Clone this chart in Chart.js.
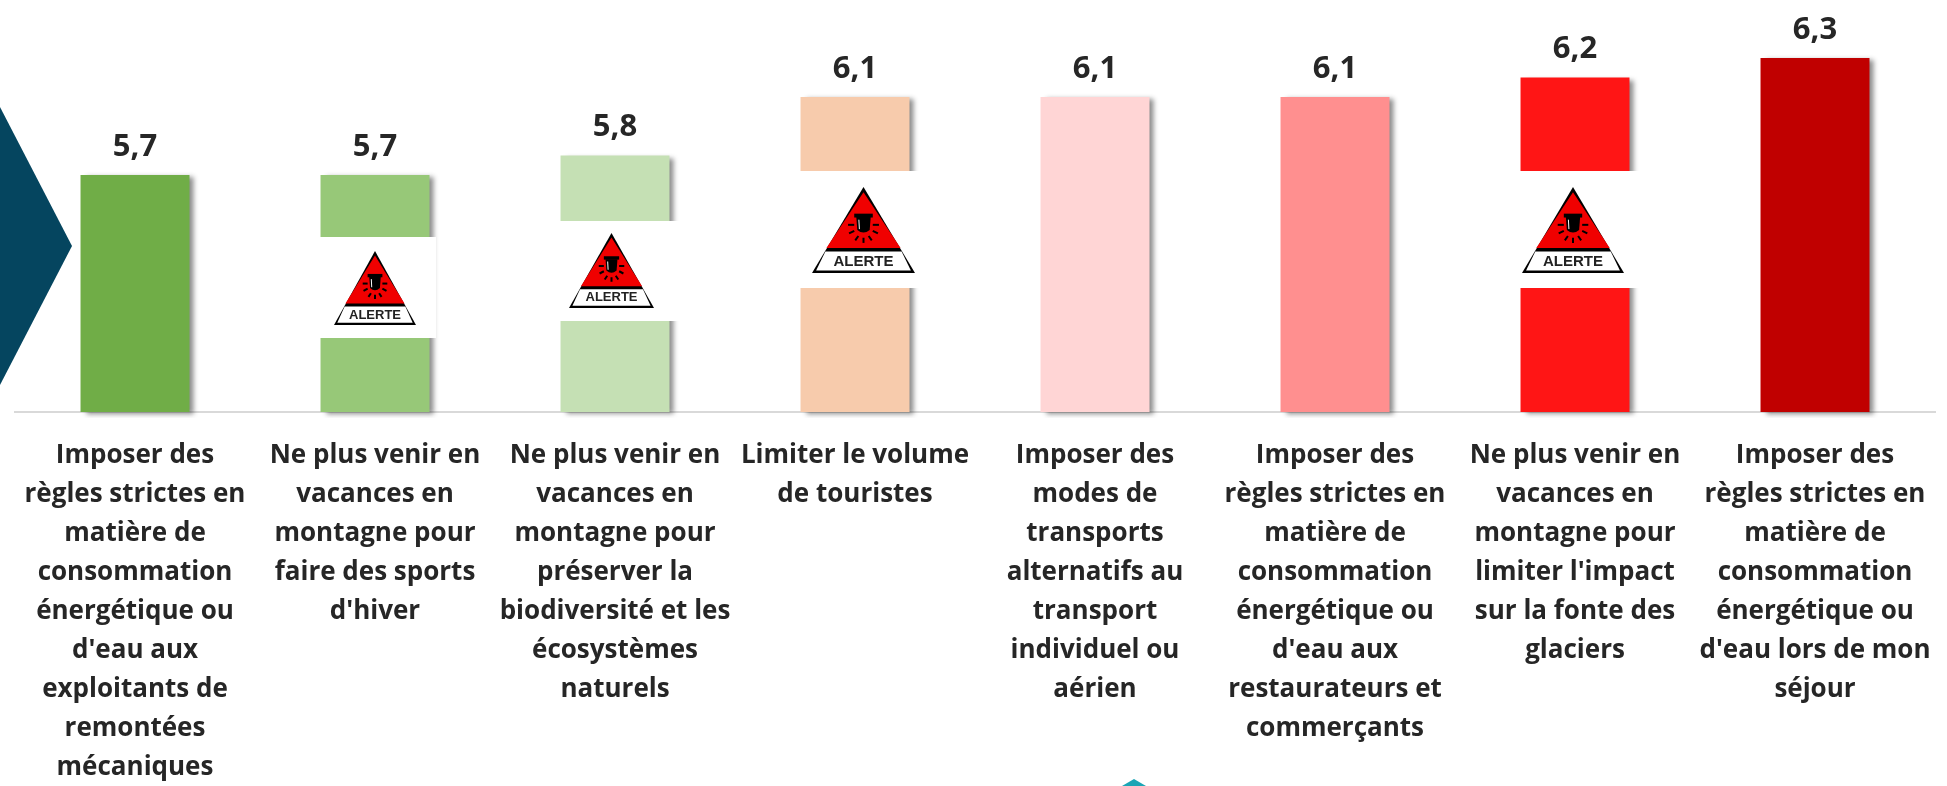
<!DOCTYPE html>
<html>
<head>
<meta charset="utf-8">
<script src="https://cdn.jsdelivr.net/npm/chart.js@4"></script>
<style>
  html, body { margin: 0; padding: 0; background: #fff; }
  #wrap { width: 1947px; height: 786px; }
</style>
</head>
<body>
<div id="wrap"><canvas id="mesures"></canvas></div>
<script>
const categories = [
    ["Imposer des", "règles strictes en", "matière de", "consommation", "énergétique ou", "d'eau aux", "exploitants de", "remontées", "mécaniques"],
    ["Ne plus venir en", "vacances en", "montagne pour", "faire des sports", "d'hiver"],
    ["Ne plus venir en", "vacances en", "montagne pour", "préserver la", "biodiversité et les", "écosystèmes", "naturels"],
    ["Limiter le volume", "de touristes"],
    ["Imposer des", "modes de", "transports", "alternatifs au", "transport", "individuel ou", "aérien"],
    ["Imposer des", "règles strictes en", "matière de", "consommation", "énergétique ou", "d'eau aux", "restaurateurs et", "commerçants"],
    ["Ne plus venir en", "vacances en", "montagne pour", "limiter l'impact", "sur la fonte des", "glaciers"],
    ["Imposer des", "règles strictes en", "matière de", "consommation", "énergétique ou", "d'eau lors de mon", "séjour"]
];
const scores = [5.7, 5.7, 5.8, 6.1, 6.1, 6.1, 6.2, 6.3];
const barColors = ["#70AD47", "#97C878", "#C5E0B4", "#F7CBAC", "#FFD5D5", "#FF8F8F", "#FF1515", "#C00000"];
const alertBars = [1, 2, 3, 6];
const axisMin = 4.485;
const axisMax = 6.598;

// pictogramme : bande blanche dans la barre + triangle (pixels)
const alertBoxes = {
    1: {top: 237, bottom: 338, right: 436, x: 334, y: 251, w: 82, h: 74},
    2: {top: 221, bottom: 321, right: 680, x: 569, y: 233, w: 85, h: 75},
    3: {top: 171, bottom: 288, right: 920, x: 812, y: 187, w: 103, h: 86},
    6: {top: 171, bottom: 288, right: 1640, x: 1522, y: 187, w: 102, h: 86}
};

function drawAlert(ctx, x, y, w, h) {
    const px = (u) => x + u * w;
    const py = (v) => y + v * h;
    ctx.save();
    ctx.beginPath();
    ctx.moveTo(px(0.5), py(0));
    ctx.lineTo(px(1), py(1));
    ctx.lineTo(px(0), py(1));
    ctx.closePath();
    ctx.fillStyle = "#000";
    ctx.fill();
    // partie rouge
    ctx.beginPath();
    ctx.moveTo(px(0.5), py(0.06));
    ctx.lineTo(px(0.86), py(0.71));
    ctx.lineTo(px(0.14), py(0.71));
    ctx.closePath();
    ctx.fillStyle = "#F00000";
    ctx.fill();
    // bandeau
    ctx.beginPath();
    ctx.moveTo(px(0.13), py(0.75));
    ctx.lineTo(px(0.87), py(0.75));
    ctx.lineTo(px(0.96), py(0.97));
    ctx.lineTo(px(0.04), py(0.97));
    ctx.closePath();
    ctx.fillStyle = "#fff";
    ctx.fill();
    ctx.fillStyle = "#222";
    ctx.font = "bold " + Math.round(h * 0.175) + "px 'Liberation Sans'";
    ctx.textAlign = "center";
    ctx.textBaseline = "middle";
    ctx.fillText("ALERTE", px(0.5), py(0.865));
    // gyrophare
    ctx.fillStyle = "#000";
    ctx.fillRect(px(0.41), py(0.31), w * 0.18, h * 0.045);
    ctx.beginPath();
    ctx.moveTo(px(0.43), py(0.35));
    ctx.lineTo(px(0.57), py(0.35));
    ctx.lineTo(px(0.56), py(0.5));
    ctx.quadraticCurveTo(px(0.5), py(0.56), px(0.44), py(0.5));
    ctx.closePath();
    ctx.fill();
    ctx.strokeStyle = "#fff";
    ctx.lineWidth = 1;
    ctx.beginPath();
    ctx.moveTo(px(0.455), py(0.38));
    ctx.lineTo(px(0.46), py(0.49));
    ctx.stroke();
    ctx.strokeStyle = "#000";
    ctx.lineWidth = 2;
    [[0.35, 0.44, 0.41, 0.44], [0.59, 0.44, 0.65, 0.44],
     [0.36, 0.54, 0.41, 0.51], [0.59, 0.51, 0.64, 0.54],
     [0.42, 0.62, 0.45, 0.57], [0.55, 0.57, 0.58, 0.62],
     [0.5, 0.59, 0.5, 0.65]].forEach((r) => {
        ctx.beginPath();
        ctx.moveTo(px(r[0]), py(r[1]));
        ctx.lineTo(px(r[2]), py(r[3]));
        ctx.stroke();
    });
    ctx.restore();
}

const decorations = {
    id: "decorations",
    beforeDatasetDraw(chart) {
        const ctx = chart.ctx;
        ctx.save();
        ctx.shadowColor = "rgba(0,0,0,0.45)";
        ctx.shadowOffsetX = 5;
        ctx.shadowOffsetY = 2;
        ctx.shadowBlur = 5;
    },
    afterDatasetDraw(chart) {
        chart.ctx.restore();
    },
    afterDatasetsDraw(chart) {
        const ctx = chart.ctx;
        const bars = chart.getDatasetMeta(0).data;

        alertBars.forEach((i) => {
            const b = alertBoxes[i];
            const left = bars[i].x - bars[i].width / 2 - 1;
            ctx.fillStyle = "#fff";
            ctx.fillRect(left, b.top, b.right - left, b.bottom - b.top);
            drawAlert(ctx, b.x, b.y, b.w, b.h);
        });

        ctx.save();
        ctx.fillStyle = "#262626";
        ctx.font = "700 31px 'Open Sans'";
        ctx.textAlign = "center";
        ctx.textBaseline = "middle";
        bars.forEach((bar, i) => {
            ctx.fillText(String(scores[i]).replace(".", ","), bar.x, bar.y - 28);
        });
        ctx.restore();

        // fleche a gauche, et pointe coupee en bas
        ctx.fillStyle = "#05455F";
        ctx.beginPath();
        ctx.moveTo(0, 107);
        ctx.lineTo(72, 246);
        ctx.lineTo(0, 385);
        ctx.closePath();
        ctx.fill();
        ctx.fillStyle = "#1BA5B5";
        ctx.beginPath();
        ctx.moveTo(1122, 786);
        ctx.lineTo(1134, 779);
        ctx.lineTo(1146, 786);
        ctx.closePath();
        ctx.fill();
    }
};

new Chart(document.getElementById("mesures"), {
    type: "bar",
    data: {
        labels: categories,
        datasets: [{
            data: scores,
            base: axisMin,
            backgroundColor: barColors,
            borderWidth: 0,
            categoryPercentage: 1,
            barPercentage: 0.454,
            clip: 6
        }]
    },
    options: {
        responsive: true,
        maintainAspectRatio: false,
        animation: false,
        layout: {padding: {left: 15, right: 12, top: 0, bottom: 0}},
        plugins: {legend: {display: false}, tooltip: {enabled: false}},
        scales: {
            x: {
                grid: {display: false, drawTicks: false},
                border: {color: "#D9D9D9", width: 2},
                afterFit(scale) {
                    scale.height = 374;
                    scale.paddingLeft = 0;
                    scale.paddingRight = 0;
                },
                ticks: {
                    autoSkip: false,
                    maxRotation: 0,
                    minRotation: 0,
                    padding: 24,
                    color: "#262626",
                    font: {family: "'Open Sans'", weight: "700", size: 26, lineHeight: 1.5}
                }
            },
            y: {display: false, min: axisMin, max: axisMax}
        }
    },
    plugins: [decorations]
});
</script>
</body>
</html>
